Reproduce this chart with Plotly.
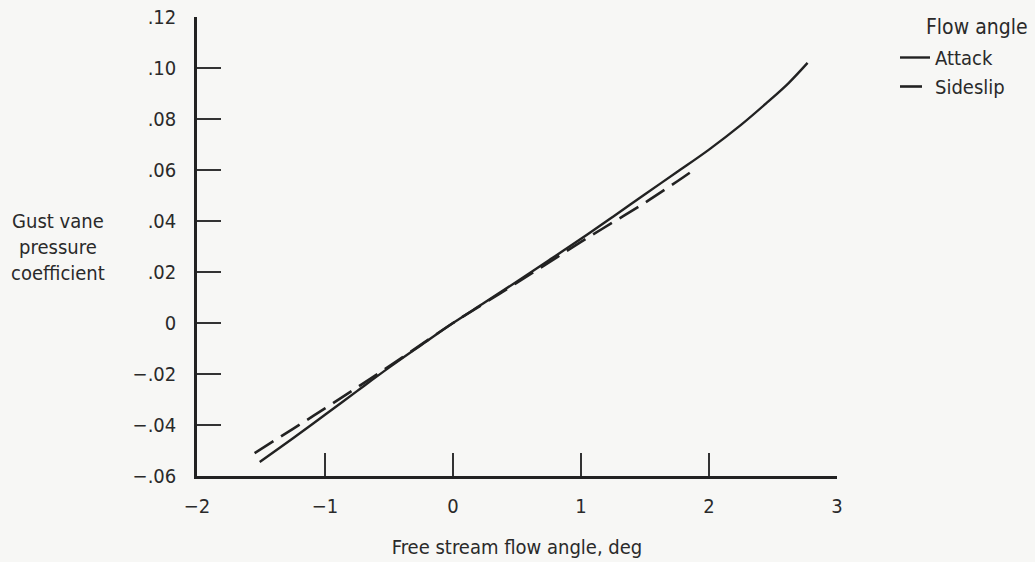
import plotly.graph_objects as go

# Data
attack_x = [-1.51, -1.25, -1.0, -0.75, -0.5, -0.25, 0.0, 0.25, 0.5, 0.75, 1.0,
            1.25, 1.5, 1.75, 2.0, 2.25, 2.45, 2.62, 2.77]
attack_y = [-0.0545, -0.0452, -0.0360, -0.0267, -0.0175, -0.0087, 0.0, 0.0081, 0.0163,
            0.0246, 0.0330, 0.0417, 0.0505, 0.0592, 0.0680, 0.0777, 0.0863, 0.0940, 0.1020]

sideslip_x = [-1.55, -1.25, -1.0, -0.75, -0.5, -0.25, 0.0, 0.25, 0.5, 0.75, 1.0,
              1.25, 1.5, 1.75, 1.88]
sideslip_y = [-0.0510, -0.0415, -0.0335, -0.0253, -0.0170, -0.0085, 0.0, 0.0079, 0.0158,
              0.0238, 0.0318, 0.0395, 0.0472, 0.0555, 0.0600]

x_tickvals = [-2, -1, 0, 1, 2, 3]
x_ticktext = ["\u22122", "\u22121", "0", "1", "2", "3"]
y_tickvals = [-0.06, -0.04, -0.02, 0.0, 0.02, 0.04, 0.06, 0.08, 0.10, 0.12]
y_ticktext = ["\u2212.06", "\u2212.04", "\u2212.02", "0", ".02", ".04", ".06", ".08", ".10", ".12"]

FONT = "DejaVu Sans Condensed, Liberation Sans Narrow, sans-serif"
INK = "#222222"
TXT = "#2a2a2a"
BG = "#f7f7f5"

W, H = 1035, 562
ML, MR, MT, MB = 197, 198, 17, 86
PW, PH = W - ML - MR, H - MT - MB


def px_x(p):
    return (p - ML) / PW


def px_y(p):
    return (H - MB - p) / PH


fig = go.Figure()
fig.add_trace(go.Scatter(x=attack_x, y=attack_y, mode="lines", name="Attack",
                         line=dict(color=INK, width=2.4, shape="spline", smoothing=1.0)))
fig.add_trace(go.Scatter(x=sideslip_x, y=sideslip_y, mode="lines", name="Sideslip",
                         line=dict(color=INK, width=2.6, dash="22px,9px", shape="spline", smoothing=1.0)))

fig.update_layout(
    width=W, height=H,
    margin=dict(l=ML, r=MR, t=MT, b=MB),
    paper_bgcolor=BG, plot_bgcolor=BG,
    font=dict(family=FONT, size=20, color=TXT),
    showlegend=True,
    legend=dict(x=px_x(895), y=px_y(38), xanchor="left", yanchor="top",
                bgcolor="rgba(0,0,0,0)",
                font=dict(size=20, color=TXT),
                itemwidth=30, tracegroupgap=0),
    xaxis=dict(range=[-2, 3], showline=True, linewidth=2.5, linecolor=INK,
               ticks="inside", ticklen=23, tickwidth=1.5, tickcolor="#333",
               tickvals=x_tickvals, ticktext=x_ticktext, ticklabelstandoff=10,
               tickfont=dict(size=20, color=TXT),
               showgrid=False, zeroline=False, automargin=False,
               title=dict(text="Free stream flow angle, deg", standoff=24,
                          font=dict(size=20, color=TXT))),
    yaxis=dict(range=[-0.06, 0.12], showline=True, linewidth=2.5, linecolor=INK,
               ticks="inside", ticklen=24, tickwidth=1.5, tickcolor="#333",
               tickvals=y_tickvals, ticktext=y_ticktext, ticklabelstandoff=14,
               tickfont=dict(size=20, color=TXT),
               showgrid=False, zeroline=False, automargin=False),
    annotations=[
        dict(text="Gust vane<br>pressure<br>coefficient", xref="paper", yref="paper",
             x=px_x(58), y=px_y(247), xanchor="center", yanchor="middle", showarrow=False,
             align="center", font=dict(size=20, color=TXT)),
        dict(text="Flow angle", xref="paper", yref="paper",
             x=px_x(1030), y=px_y(27), xanchor="right", yanchor="middle", showarrow=False,
             font=dict(size=21, color=TXT)),
    ],
)

fig.write_html("out.html")
